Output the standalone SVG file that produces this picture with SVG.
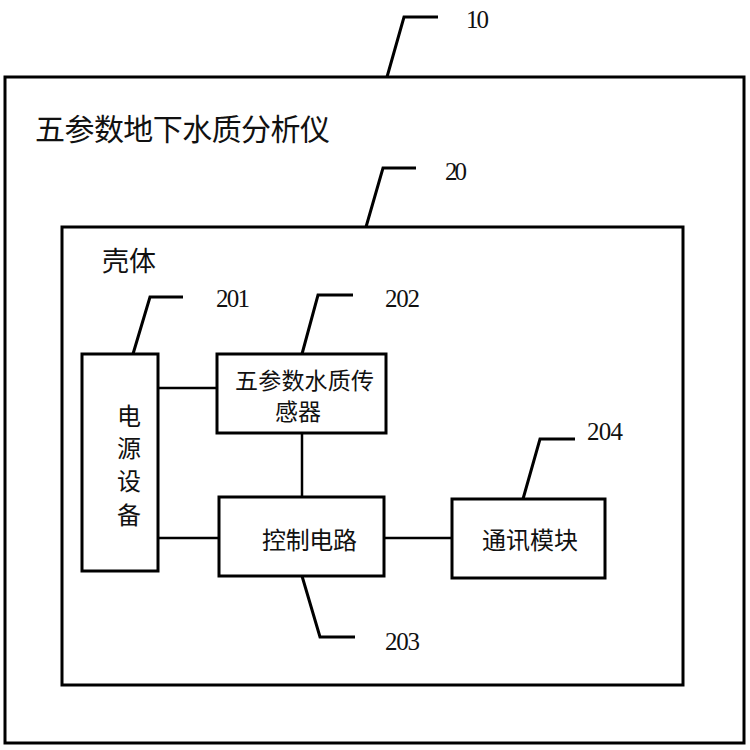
<svg xmlns="http://www.w3.org/2000/svg" width="750" height="750" viewBox="0 0 750 750">
<style>
.box{fill:none;stroke:#000;stroke-width:3}
.ln{fill:none;stroke:#000;stroke-width:3}
.cn{fill:none;stroke:#000;stroke-width:2.5}
.zh{font-family:"Noto Sans CJK SC","Noto Sans",sans-serif;fill:#111}
.num{font-family:"Liberation Serif",serif;fill:#111;font-size:25px}
</style>
<rect width="750" height="750" fill="#fff"/>
<g id="n10">
<rect class="box" x="5" y="77" width="739" height="666"/>
<text class="zh" x="35" y="140" font-size="30" textLength="295">五参数地下水质分析仪</text>
<path class="ln" d="M387,77 L404,17 L438,17"/>
<text class="num" x="466" y="28" textLength="23">10</text>
</g>
<g id="n20">
<rect class="box" x="62" y="227" width="621" height="458"/>
<text class="zh" x="102" y="271" font-size="27">壳体</text>
<path class="ln" d="M366,227 L383,168 L416,168"/>
<text class="num" x="445" y="180" textLength="22">20</text>
</g>
<g id="n201">
<rect class="box" x="82" y="354" width="76" height="217"/>
<text class="zh" font-size="24" text-anchor="middle"><tspan x="129" y="425">电</tspan><tspan x="129" y="457">源</tspan><tspan x="129" y="490">设</tspan><tspan x="129" y="524">备</tspan></text>
<path class="ln" d="M133,354 L150,297 L183,297"/>
<text class="num" x="216" y="307" textLength="34">201</text>
</g>
<g id="n202">
<rect class="box" x="217" y="354" width="169" height="79"/>
<text class="zh" font-size="23"><tspan x="235" y="389" textLength="139">五参数水质传</tspan><tspan x="275" y="420">感器</tspan></text>
<path class="ln" d="M302,354 L318,295 L353,295"/>
<text class="num" x="385" y="307" textLength="35">202</text>
</g>
<g id="n203">
<rect class="box" x="219" y="497" width="165" height="79"/>
<text class="zh" x="262" y="549" font-size="24" textLength="95">控制电路</text>
<path class="ln" d="M302,576 L320,637 L355,637"/>
<text class="num" x="385" y="650" textLength="35">203</text>
</g>
<g id="n204">
<rect class="box" x="452" y="499" width="153" height="79"/>
<text class="zh" x="482" y="549" font-size="24" textLength="96">通讯模块</text>
<path class="ln" d="M523,499 L540,439 L575,439"/>
<text class="num" x="587" y="440" textLength="36">204</text>
</g>
<g id="connectors">
<path class="cn" d="M158,388 L217,388"/>
<path class="cn" d="M302,433 L302,497"/>
<path class="cn" d="M158,538 L219,538"/>
<path class="cn" d="M384,538 L452,538"/>
</g>
</svg>
